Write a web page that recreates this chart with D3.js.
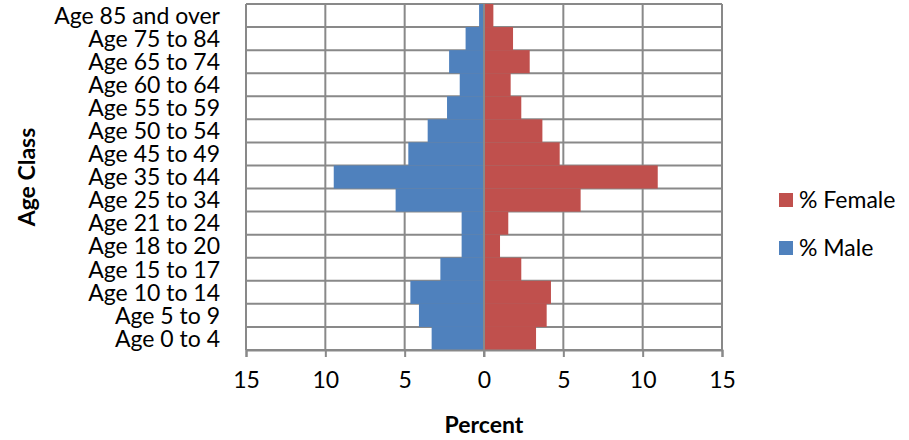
<!DOCTYPE html>
<html>
<head>
<meta charset="utf-8">
<script src="https://cdn.jsdelivr.net/npm/d3@7"></script>
<style>
  body { margin: 0; background: #fff; }
  svg { display: block; font-family: Lato, "Open Sans", sans-serif; }
</style>
</head>
<body>
<div id="chart"></div>
<script>
// Population pyramid: % male (left) and % female (right) by age class
const ageClasses = ["Age 85 and over", "Age 75 to 84", "Age 65 to 74", "Age 60 to 64",
  "Age 55 to 59", "Age 50 to 54", "Age 45 to 49", "Age 35 to 44", "Age 25 to 34",
  "Age 21 to 24", "Age 18 to 20", "Age 15 to 17", "Age 10 to 14", "Age 5 to 9", "Age 0 to 4"];
const malePct   = [0.31, 1.16, 2.2, 1.53, 2.33, 3.55, 4.77, 9.47, 5.57, 1.41, 1.41, 2.75, 4.64, 4.1, 3.3];
const femalePct = [0.59, 1.83, 2.88, 1.68, 2.35, 3.68, 4.77, 10.95, 6.09, 1.53, 1.01, 2.35, 4.22, 3.95, 3.28];
const xTicks = [-15, -10, -5, 0, 5, 10, 15];

const width = 909, height = 440;
const blue = "#4F81BD", red = "#C0504D", grid = "#898989";
const fontSize = 23;

const svg = d3.select("#chart").append("svg")
    .attr("width", width)
    .attr("height", height);

const x = d3.scaleLinear().domain([-15, 15]).range([246, 722]);
const y = d3.scaleBand().domain(ageClasses).range([4, 350]).padding(0);

// Gridlines (behind bars)
svg.append("g")
  .selectAll("line")
  .data(xTicks)
  .enter()
  .append("line")
    .attr("x1", d => x(d)).attr("x2", d => x(d))
    .attr("y1", y.range()[0]).attr("y2", y.range()[1])
    .attr("stroke", grid).attr("stroke-width", 2);

const rowEdges = ageClasses.map(d => y(d)).concat([y.range()[1]]);
svg.append("g")
  .selectAll("line")
  .data(rowEdges)
  .enter()
  .append("line")
    .attr("x1", x(-15)).attr("x2", x(15))
    .attr("y1", d => d).attr("y2", d => d)
    .attr("stroke", grid).attr("stroke-width", 2);

// Bars
svg.append("g")
  .selectAll("rect")
  .data(ageClasses)
  .enter()
  .append("rect")
    .attr("x", (d, i) => x(-malePct[i]))
    .attr("y", d => y(d))
    .attr("width", (d, i) => x(0) - x(-malePct[i]))
    .attr("height", y.bandwidth())
    .attr("fill", blue);

svg.append("g")
  .selectAll("rect")
  .data(ageClasses)
  .enter()
  .append("rect")
    .attr("x", x(0))
    .attr("y", d => y(d))
    .attr("width", (d, i) => x(femalePct[i]) - x(0))
    .attr("height", y.bandwidth())
    .attr("fill", red);

// Center (category) axis line
svg.append("line")
    .attr("x1", x(0)).attr("x2", x(0))
    .attr("y1", y.range()[0]).attr("y2", y.range()[1] + 7)
    .attr("stroke", grid).attr("stroke-width", 2);

// Bottom axis
const xAxis = svg.append("g")
    .attr("transform", `translate(0,${y.range()[1]})`)
    .call(d3.axisBottom(x).tickValues(xTicks).tickFormat(d => Math.abs(d)).tickSizeOuter(0).tickSize(7).tickPadding(15));
xAxis.select(".domain").attr("stroke", grid).attr("stroke-width", 2);
xAxis.selectAll(".tick line").attr("stroke", grid).attr("stroke-width", 2);
xAxis.selectAll("text")
    .attr("font-family", "Lato, sans-serif")
    .attr("font-size", fontSize)
    .attr("fill", "#000");

// Category labels
svg.append("g")
  .selectAll("text")
  .data(ageClasses)
  .enter()
  .append("text")
    .attr("x", 220)
    .attr("y", d => y(d) + y.bandwidth() / 2)
    .attr("dy", "0.36em")
    .attr("text-anchor", "end")
    .attr("font-size", fontSize)
    .text(d => d);

// Axis titles
svg.append("text")
    .attr("x", x(0))
    .attr("y", 433)
    .attr("text-anchor", "middle")
    .attr("font-size", fontSize)
    .attr("font-weight", "bold")
    .text("Percent");

svg.append("text")
    .attr("transform", `translate(35,${(y.range()[0] + y.range()[1]) / 2}) rotate(-90)`)
    .attr("text-anchor", "middle")
    .attr("font-size", fontSize)
    .attr("font-weight", "bold")
    .text("Age Class");

// Legend
const legend = [{name: "% Female", fill: red, cy: 200}, {name: "% Male", fill: blue, cy: 248}];
svg.selectAll(".legend-box")
  .data(legend)
  .enter()
  .append("rect")
    .attr("x", 779)
    .attr("y", d => d.cy - 7)
    .attr("width", 14)
    .attr("height", 14)
    .attr("fill", d => d.fill);
svg.selectAll(".legend-label")
  .data(legend)
  .enter()
  .append("text")
    .attr("x", 799)
    .attr("y", d => d.cy)
    .attr("dy", "0.36em")
    .attr("font-size", fontSize)
    .text(d => d.name);
</script>
</body>
</html>
